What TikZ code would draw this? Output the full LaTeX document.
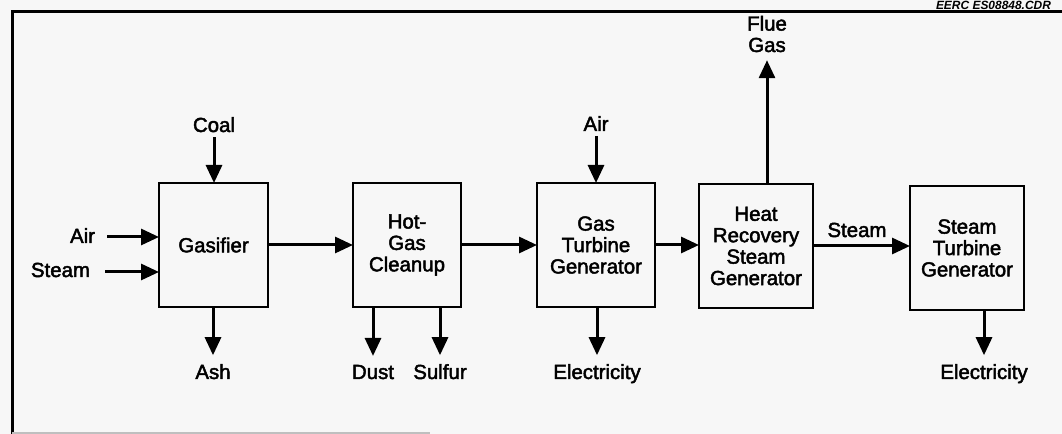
\documentclass[tikz,border=0pt]{standalone}
\usepackage{fontspec}
\setmainfont[FakeBold=2.2]{Liberation Sans}
\newfontfamily\tagfont{Liberation Sans}
\usetikzlibrary{arrows.meta}
\begin{document}
\begin{tikzpicture}[x=1bp,y=-1bp,
  every node/.style={font=\fontsize{20.5}{21.5}\selectfont, inner sep=2bp, outer sep=0pt},
  unit/.style={draw, line width=2.6bp, align=center, minimum height=124bp},
  lbl/.style={anchor=base},
  arr/.style={line width=3bp, -{Triangle[length=18bp,width=16bp]}},
  frame/.style={line width=3bp}]
\fill[black!3] (0,0) rectangle (1062,434);
\useasboundingbox (0,0) rectangle (1062,434);
% frame
\draw[frame] (1062,12) -- (12,12) -- (12,434);
\draw[black!25, line width=1.5bp] (12,433) -- (430,433);
\node[anchor=base west, font=\tagfont\fontsize{12}{12}\selectfont\bfseries\itshape] (tag) at (934,9.5) {EERC ES08848.CDR};
% units
\node[unit, minimum width=109bp] (gas) at (213.5,245) {Gasifier};
\node[unit, minimum width=108bp] (hgc) at (407,245) {Hot-\\Gas\\Cleanup};
\node[unit, minimum width=118bp] (gtg) at (596,245) {Gas\\Turbine\\Generator};
\node[unit, minimum width=114bp] (hrsg) at (756,246) {Heat\\Recovery\\Steam\\Generator};
\node[unit, minimum width=114bp] (stg) at (967,248) {Steam\\Turbine\\Generator};
% labels
\node[lbl] (coal) at (214,132) {Coal};
\node[lbl, anchor=base east] (airl) at (97,243) {Air};
\node[lbl, anchor=base east] (steaml) at (92,277) {Steam};
\node[lbl] (ash) at (213,379) {Ash};
\node[lbl] (dust) at (373,379) {Dust};
\node[lbl] (sulfur) at (440,379) {Sulfur};
\node[lbl] (airg) at (596,131) {Air};
\node[lbl] (elec1) at (597,379) {Electricity};
\node[lbl] (steamm) at (857,237) {Steam};
\node[align=center, anchor=base] (flue) at (767,52) {Flue\\Gas};
\node[lbl] (elec2) at (984,379) {Electricity};
% connectors
\draw[arr, shorten <=3bp] (coal.south) -- (coal.south |- gas.north);
\draw[arr, shorten <=10bp] (airl.east |- 0,237) -- (gas.west |- 0,237);
\draw[arr, shorten <=13bp] (steaml.east |- 0,272) -- (gas.west |- 0,272);
\draw[arr] (gas.east) -- (hgc.west);
\draw[arr] (hgc.east) -- (gtg.west);
\draw[arr] (gtg.east) -- (gtg.east -| hrsg.west);
\draw[arr] (hrsg.east) -- (hrsg.east -| stg.west);
\draw[arr, shorten <=3bp] (airg.south) -- (airg.south |- gtg.north);
\draw[arr, shorten >=6bp] (flue.south |- hrsg.north) -- (flue.south);
\draw[arr, shorten >=7bp] (gas.south -| ash.north) -- (ash.north);
\draw[arr, shorten >=7bp] (hgc.south -| dust.north) -- (dust.north);
\draw[arr, shorten >=7bp] (hgc.south -| sulfur.north) -- (sulfur.north);
\draw[arr, shorten >=7bp] (gtg.south -| elec1.north) -- (elec1.north);
\draw[arr, shorten >=7bp] (stg.south -| elec2.north) -- (elec2.north);
\end{tikzpicture}
\end{document}
